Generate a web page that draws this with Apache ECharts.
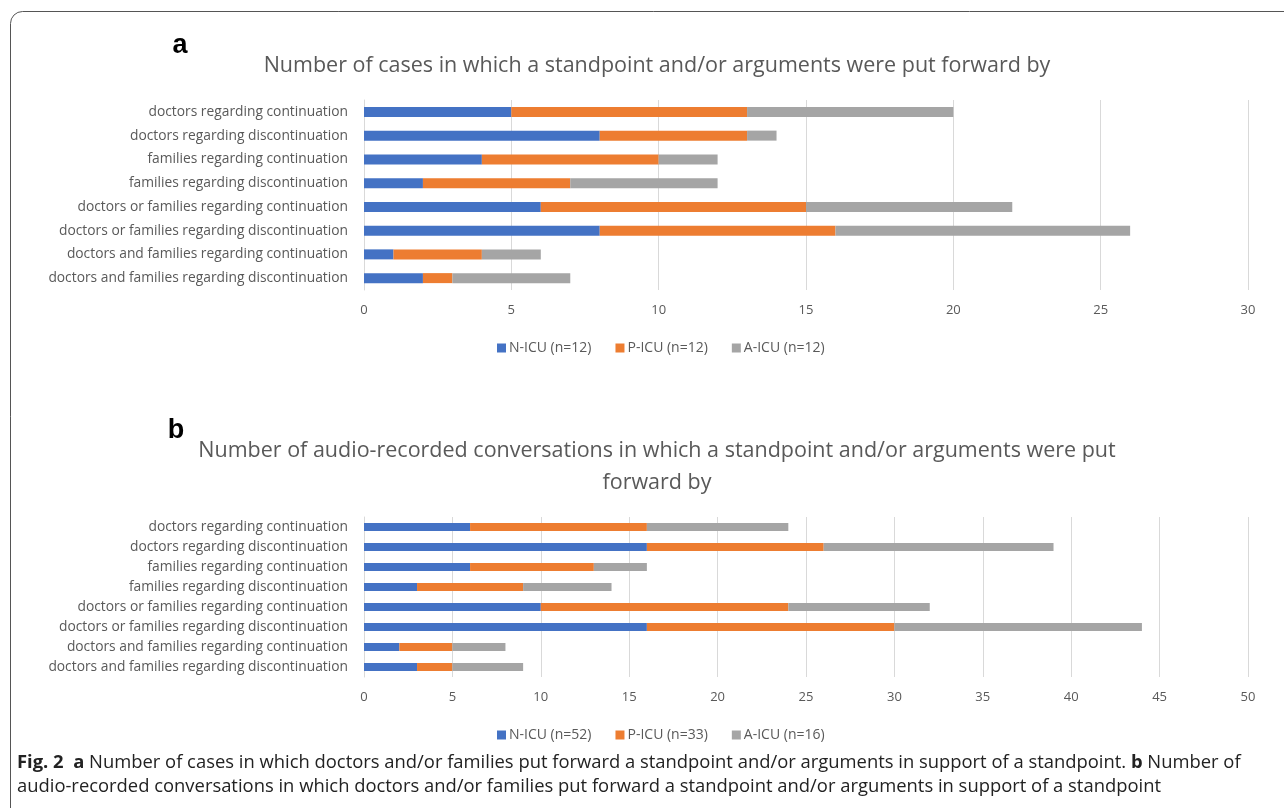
<!DOCTYPE html>
<html><head><meta charset="utf-8">
<script src="https://cdn.jsdelivr.net/npm/echarts@6/dist/echarts.min.js"></script>
<style>html,body{margin:0;padding:0;background:#fff}#c{width:1284px;height:808px}</style>
</head><body><div id="c"></div>
<script>
const categories = [
  "doctors regarding continuation",
  "doctors regarding discontinuation",
  "families regarding continuation",
  "families regarding discontinuation",
  "doctors or families regarding continuation",
  "doctors or families regarding discontinuation",
  "doctors and families regarding continuation",
  "doctors and families regarding discontinuation"
];
// Panel a: cases
const casesNICU = [5, 8, 4, 2, 6, 8, 1, 2];
const casesPICU = [8, 5, 6, 5, 9, 8, 3, 1];
const casesAICU = [7, 1, 2, 5, 7, 10, 2, 4];
const casesNames = ["N-ICU (n=12)", "P-ICU (n=12)", "A-ICU (n=12)"];
const casesTicks = [0, 5, 10, 15, 20, 25, 30];
// Panel b: conversations
const convNICU = [6, 16, 6, 3, 10, 16, 2, 3];
const convPICU = [10, 10, 7, 6, 14, 14, 3, 2];
const convAICU = [8, 13, 3, 5, 8, 14, 3, 4];
const convNames = ["N-ICU (n=52)", "P-ICU (n=33)", "A-ICU (n=16)"];
const convTicks = [0, 5, 10, 15, 20, 25, 30, 35, 40, 45, 50];

const colors = ["#4472C4", "#ED7D31", "#A5A5A5"];
const txt = "#595959";
const lblFont = "Open Sans";

function mkX(idx, ticks) {
  return {
    type: 'value', gridIndex: idx, min: ticks[0], max: ticks[ticks.length - 1],
    interval: ticks[1] - ticks[0],
    axisLine: { show: false }, axisTick: { show: false },
    axisLabel: { color: txt, fontSize: 13, fontFamily: lblFont, margin: 14 },
    splitLine: { lineStyle: { color: '#d9d9d9', width: 1 } }
  };
}
function mkY(idx) {
  return {
    type: 'category', gridIndex: idx, data: categories, inverse: true,
    axisLine: { lineStyle: { color: '#d9d9d9' } }, axisTick: { show: false },
    axisLabel: { color: txt, fontSize: 13.8, fontFamily: lblFont, margin: 16 }
  };
}
function mkSeries(names, arrs, idx, bw, stack) {
  return arrs.map((d, i) => ({
    name: names[i], type: 'bar', stack: stack, data: d,
    xAxisIndex: idx, yAxisIndex: idx, barWidth: bw,
    itemStyle: { color: colors[i] }, emphasis: { disabled: true }
  }));
}
const legendBase = { itemWidth: 9, itemHeight: 9, icon: 'rect', itemGap: 24,
  textStyle: { color: txt, fontSize: 14, fontFamily: lblFont, padding: [0, 0, 0, -2] } };

const chart = echarts.init(document.getElementById('c'));
chart.setOption({
  animation: false,
  grid: [
    { left: 364, right: 36, top: 100, height: 190 },
    { left: 364, right: 36, top: 517, height: 160 }
  ],
  xAxis: [mkX(0, casesTicks), mkX(1, convTicks)],
  yAxis: [mkY(0), mkY(1)],
  legend: [
    Object.assign({ data: casesNames, left: 492, top: 336 }, legendBase),
    Object.assign({ data: convNames, left: 492, top: 723 }, legendBase)
  ],
  series: [
    ...mkSeries(casesNames, [casesNICU, casesPICU, casesAICU], 0, 10, 'a'),
    ...mkSeries(convNames, [convNICU, convPICU, convAICU], 1, 8, 'b')
  ],
  graphic: [
    { type: 'rect', shape: { x: 10.5, y: 11.5, width: 1300, height: 830, r: 12 },
      style: { fill: 'none', stroke: '#555', lineWidth: 1 }, z: -1 },
    { type: 'text', x: 180, y: 46, style: { text: 'a', font: 'bold 27px "Liberation Sans", Arial', fill: '#000', textAlign: 'center', textVerticalAlign: 'middle' } },
    { type: 'text', x: 657, y: 66, style: { text: 'Number of cases in which a standpoint and/or arguments were put forward by', font: '21.5px "Open Sans"', fill: txt, textAlign: 'center', textVerticalAlign: 'middle' } },
    { type: 'text', x: 176, y: 431, style: { text: 'b', font: 'bold 27px "Liberation Sans", Arial', fill: '#000', textAlign: 'center', textVerticalAlign: 'middle' } },
    { type: 'text', x: 657, y: 451, style: { text: 'Number of audio-recorded conversations in which a standpoint and/or arguments were put', font: '21.5px "Open Sans"', fill: txt, textAlign: 'center', textVerticalAlign: 'middle' } },
    { type: 'text', x: 657, y: 483, style: { text: 'forward by', font: '21.5px "Open Sans"', fill: txt, textAlign: 'center', textVerticalAlign: 'middle' } },
    { type: 'text', x: 17, y: 763, style: {
        text: '{b|Fig. 2}  {b|a} Number of cases in which doctors and/or families put forward a standpoint and/or arguments in support of a standpoint. {b|b} Number of',
        font: '18.4px "Open Sans"', fill: '#222', textVerticalAlign: 'middle',
        rich: { b: { fontWeight: 'bold', fontSize: 18.4, fontFamily: '"Open Sans"', fill: '#222' } } } },
    { type: 'text', x: 17, y: 787, style: {
        text: 'audio-recorded conversations in which doctors and/or families put forward a standpoint and/or arguments in support of a standpoint',
        font: '18.4px "Open Sans"', fill: '#222', textVerticalAlign: 'middle' } }
  ]
});
</script></body></html>
